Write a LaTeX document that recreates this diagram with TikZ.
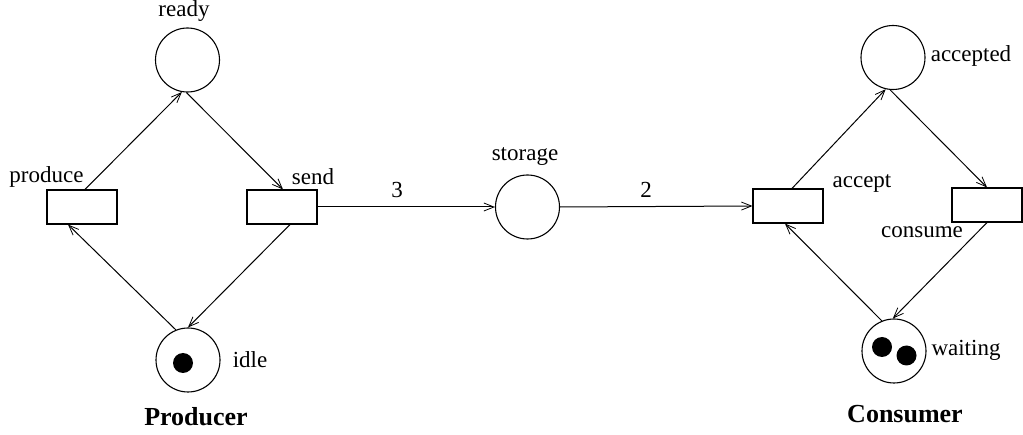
\documentclass[tikz,border=0pt]{standalone}
\usepackage{fontspec}
\setmainfont{Liberation Serif}
\usetikzlibrary{arrows.meta}
\begin{document}
\begin{tikzpicture}[x=1pt,y=-1pt,
  place/.style={draw,circle,minimum size=64pt,inner sep=0pt,line width=1.1pt},
  trans/.style={draw,rectangle,minimum width=70pt,minimum height=34pt,inner sep=0pt,line width=1.1pt},
  token/.style={fill=black,circle,minimum size=20pt,inner sep=0pt},
  lbl/.style={inner sep=0pt,font=\fontsize{23}{27}\selectfont},
  title/.style={inner sep=0pt,font=\fontsize{26}{30}\selectfont\bfseries},
  arc/.style={line width=1pt,-{Straight Barb[length=10pt,width=8pt,line width=0.8pt]}}
]
\useasboundingbox (0,0) rectangle (1023,435);
% places
\node[place] (ready) at (187.5,60) {};
\node[place] (idle) at (188,360) {};
\node[place] (storage) at (527.5,207) {};
\node[place] (accepted) at (893,57.5) {};
\node[place] (waiting) at (894,351) {};
% tokens
\node[token] (t1) at (183,363) {};
\node[token] (t2) at (882,347) {};
\node[token] (t3) at (906.5,355.5) {};
% transitions
\node[trans] (produce) at (82,207) {};
\node[trans] (send) at (282,207) {};
\node[trans] (accept) at (788,206) {};
\node[trans] (consume) at (987,205) {};
% labels
\node[lbl] (lready) at (184,11) {ready};
\node[lbl] (lproduce) at (46.5,177) {produce};
\node[lbl] (lsend) at (313,177) {send};
\node[lbl] (lidle) at (250,360) {idle};
\node[title] (lproducer) at (196,417) {Producer};
\node[lbl] (lstorage) at (525,157) {storage};
\node[lbl] (lthree) at (397,190) {3};
\node[lbl] (ltwo) at (646,190) {2};
\node[lbl] (laccepted) at (971,56) {accepted};
\node[lbl] (laccept) at (862,183) {accept};
\node[lbl] (lconsume) at (922,232) {consume};
\node[lbl] (lwaiting) at (966,350) {waiting};
\node[title] (lconsumer) at (905,414) {Consumer};
% arcs producer
\draw[arc] ([xshift=3pt]produce.north) -- (ready.-100);
\draw[arc] (ready.-92) -- ([xshift=1pt]send.north);
\draw[arc] ([xshift=8pt]send.south) -- (idle.90);
\draw[arc] (idle.112) -- ([xshift=-14pt]produce.south);
% arcs storage
\draw[arc] (send.east) -- (storage.west);
\draw[arc] (storage.east) -- (accept.west);
% arcs consumer
\draw[arc] ([xshift=4pt]accept.north) -- (accepted.-103);
\draw[arc] (accepted.-95) -- (consume.north);
\draw[arc] (consume.south) -- (waiting.92);
\draw[arc] (waiting.112) -- ([xshift=-3pt]accept.south);
\end{tikzpicture}
\end{document}
